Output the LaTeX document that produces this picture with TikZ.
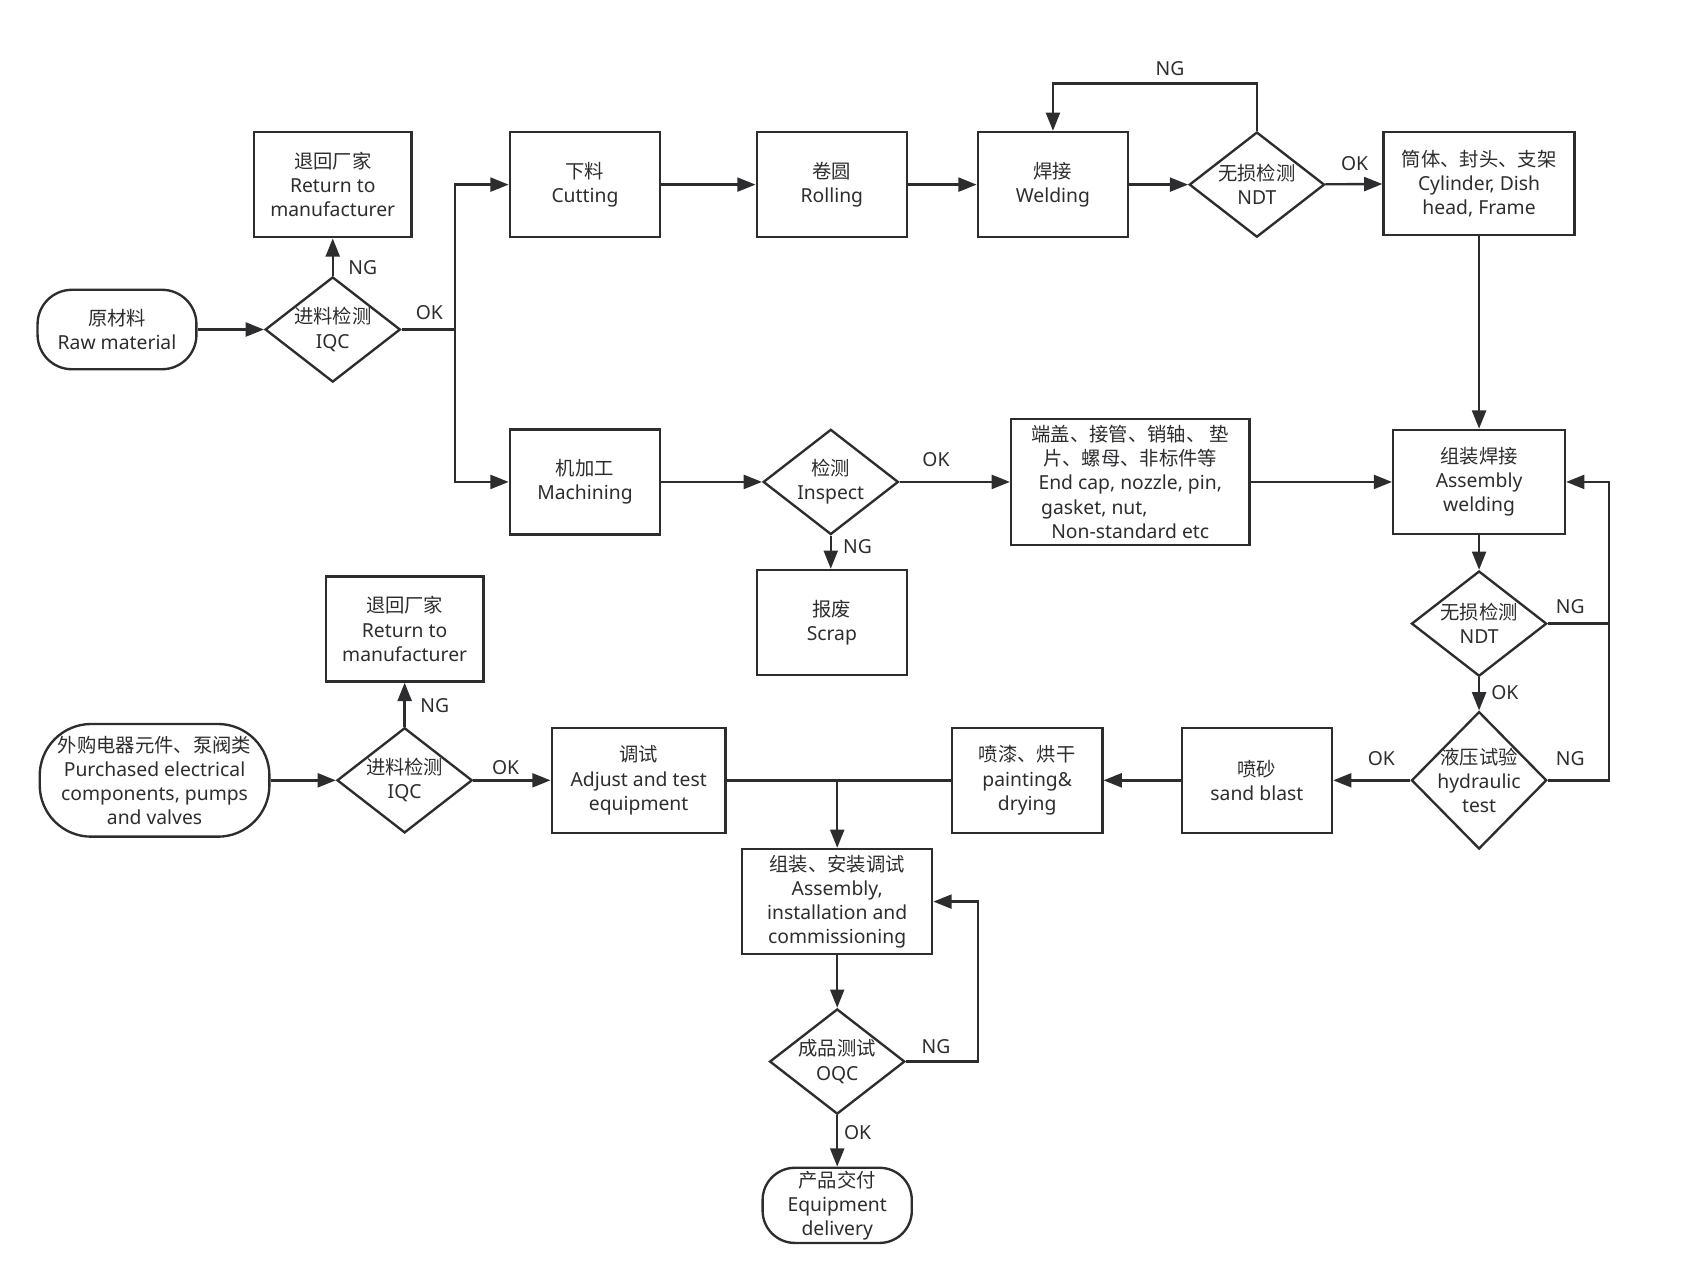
\documentclass[tikz,border=0pt]{standalone}
\usepackage{fontspec}
\setmainfont{Noto Sans}
\newfontfamily\cjk{Noto Sans CJK SC}
\usetikzlibrary{arrows.meta, positioning, shapes.geometric}
\definecolor{flowdark}{RGB}{45, 45, 48}

\begin{document}
\begin{tikzpicture}[
        x=1pt, y=-1pt,
        every node/.style={font=\fontsize{18}{22.5}\selectfont, text=flowdark, align=center},
        proc/.style={rectangle, draw=flowdark, line width=2.2pt, minimum width=140pt, minimum height=98pt, inner sep=2pt},
        term/.style={rectangle, draw=flowdark, line width=2.2pt, rounded corners=32pt, inner sep=2pt},
        dia/.style={diamond, draw=flowdark, line width=2.2pt, aspect=1.29, inner sep=0pt, minimum width=126pt, minimum height=98pt},
        lbl/.style={inner sep=1pt},
        link/.style={line width=2.2pt, flowdark},
        arr/.style={-{Triangle[length=17pt, width=13pt]}, line width=2.2pt, flowdark}
      ]
        \useasboundingbox (0,0) rectangle (1568,1193);

        % raw material branch
        \node[term, minimum width=148pt, minimum height=74pt] (raw) at (109,307) {{\cjk 原材料}\\Raw material};
        \node[dia] (iqcA) at (310,307) {{\cjk 进料检测}\\IQC};
        \node[proc, minimum width=147pt] (retA) at (310,172) {{\cjk 退回厂家}\\Return to\\manufacturer};
        \node[proc] (cut) at (545,172) {{\cjk 下料}\\Cutting};
        \node[proc] (roll) at (775,172) {{\cjk 卷圆}\\Rolling};
        \node[proc] (weld) at (981,172) {{\cjk 焊接}\\Welding};
        \node[dia] (ndtA) at (1171,172) {{\cjk 无损检测}\\NDT};
        \node[proc, minimum width=178pt, minimum height=96pt] (cyl) at (1378,171) {{\cjk 筒体、封头、支架}\\Cylinder, Dish\\head, Frame};

        % machining branch
        \node[proc] (mach) at (545,449) {{\cjk 机加工}\\Machining};
        \node[dia] (insp) at (774,449) {{\cjk 检测}\\Inspect};
        \node[proc, minimum width=222pt, minimum height=117pt] (endcap) at (1053,449) {{\cjk 端盖、接管、销轴、 垫}\\{\cjk 片、螺母、非标件等}\\End cap, nozzle, pin,\\\makebox[166pt][l]{gasket, nut,}\\Non-standard etc};
        \node[proc] (scrap) at (775,580) {{\cjk 报废}\\Scrap};
        \node[proc, minimum width=160pt, minimum height=97pt] (asmw) at (1378,449) {{\cjk 组装焊接}\\Assembly\\welding};

        % tests and finishing
        \node[dia] (ndtB) at (1378,581) {{\cjk 无损检测}\\NDT};
        \node[dia, aspect=1, inner sep=-10pt, minimum height=128pt] (hydro) at (1378,727) {{\cjk 液压试验}\\hydraulic\\test};
        \node[proc] (sand) at (1171,727) {{\cjk 喷砂}\\sand blast};
        \node[proc] (paint) at (957,727) {{\cjk 喷漆、烘干}\\painting\&\\drying};
        \node[proc, minimum width=162pt] (adj) at (595,727) {{\cjk 调试}\\Adjust and test\\equipment};

        % purchased parts branch
        \node[term, minimum width=214pt, minimum height=105pt, rounded corners=48pt] (purch) at (144,727) {{\cjk 外购电器元件、泵阀类}\\Purchased electrical\\components, pumps\\and valves};
        \node[dia] (iqcB) at (377,727) {{\cjk 进料检测}\\IQC};
        \node[proc, minimum width=147pt] (retB) at (377,586) {{\cjk 退回厂家}\\Return to\\manufacturer};

        % final assembly
        \node[proc, minimum width=177pt] (asmi) at (780,840) {{\cjk 组装、安装调试}\\Assembly,\\installation and\\commissioning};
        \node[dia] (oqc) at (780,989) {{\cjk 成品测试}\\OQC};
        \node[term, minimum width=139pt, minimum height=70pt, rounded corners=30pt] (deliv) at (780,1123) {{\cjk 产品交付}\\Equipment\\delivery};

        \coordinate (splitA) at (424,307);
        \coordinate (loopR) at (1499,449);
        \coordinate (joinB) at (780,727);

        % connectors
        \draw[arr] (raw) -- (iqcA);
        \draw[arr] (iqcA) -- (retA);
        \draw[link] (iqcA.east) -- (splitA);
        \draw[arr] (splitA) |- (cut.west);
        \draw[arr] (splitA) |- (mach.west);
        \draw[arr] (cut) -- (roll);
        \draw[arr] (roll) -- (weld);
        \draw[arr] (weld) -- (ndtA);
        \draw[arr] (ndtA.north) -- ++(0,-44) -| (weld.north);
        \draw[arr] (ndtA) -- (cyl);
        \draw[arr] (cyl) -- (asmw);
        \draw[arr] (mach) -- (insp);
        \draw[arr] (insp) -- (endcap);
        \draw[arr] (insp.south) -- (insp.south |- scrap.north);
        \draw[arr] (endcap) -- (asmw);
        \draw[arr] (asmw) -- (ndtB);
        \draw[arr] (ndtB.east) -| (loopR) -- (asmw.east);
        \draw[link] (hydro.east) -| (loopR);
        \draw[arr] (ndtB) -- (hydro);
        \draw[arr] (hydro) -- (sand);
        \draw[arr] (sand) -- (paint);
        \draw[link] (paint.west) -- (adj.east);
        \draw[arr] (joinB) -- (asmi);
        \draw[arr] (purch) -- (iqcB);
        \draw[arr] (iqcB) -- (adj);
        \draw[arr] (iqcB) -- (retB);
        \draw[arr] (asmi) -- (oqc);
        \draw[arr] (oqc.east) -- ++(67,0) |- (asmi.east);
        \draw[arr] (oqc) -- (deliv);

        % branch labels
        \node[lbl] (ngA) at (338,249) {NG};
        \node[lbl] (okA) at (400,291) {OK};
        \node[lbl] (ngB) at (1090,64) {NG};
        \node[lbl] (okB) at (1262,152) {OK};
        \node[lbl] (okC) at (872,428) {OK};
        \node[lbl] (ngC) at (799,509) {NG};
        \node[lbl] (ngD) at (1463,565) {NG};
        \node[lbl] (okD) at (1402,645) {OK};
        \node[lbl] (ngE) at (1463,707) {NG};
        \node[lbl] (okE) at (1287,707) {OK};
        \node[lbl] (ngF) at (405,657) {NG};
        \node[lbl] (okF) at (471,715) {OK};
        \node[lbl] (ngG) at (872,975) {NG};
        \node[lbl] (okG) at (799,1055) {OK};
      \end{tikzpicture}
\end{document}
